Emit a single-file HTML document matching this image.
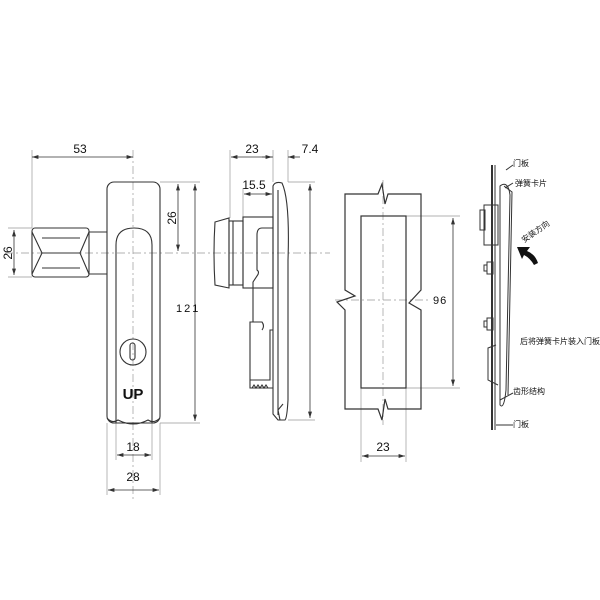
<!DOCTYPE html>
<html><head><meta charset="utf-8"><style>
html,body{margin:0;padding:0;background:#fff}
svg{display:block}
text{font-family:"Liberation Sans",sans-serif;fill:#111}
.c{font-family:"Liberation Serif","Noto Serif CJK SC",serif;font-size:8px}
</style></head><body>
<svg width="600" height="600" viewBox="0 0 600 600" xmlns="http://www.w3.org/2000/svg">
<defs><marker id="a" markerWidth="8" markerHeight="6" refX="8" refY="3" orient="auto-start-reverse"><path d="M0,0.5 L8,3 L0,5.5z" fill="#333"/></marker></defs>
<g stroke="#999" stroke-width="0.7" fill="none">
<line x1="32" y1="150" x2="32" y2="228"/><line x1="133" y1="150" x2="133" y2="500" stroke-dasharray="8,3,2,3"/>
<line x1="8" y1="228" x2="32" y2="228"/><line x1="8" y1="277" x2="32" y2="277"/>
<line x1="160" y1="182" x2="200" y2="182"/><line x1="160" y1="423" x2="200" y2="423"/>
<line x1="5" y1="253" x2="330" y2="253" stroke-dasharray="8,3,2,3"/>
<line x1="107" y1="423" x2="107" y2="495"/><line x1="160" y1="423" x2="160" y2="495"/>
<line x1="116" y1="423" x2="116" y2="460"/><line x1="152" y1="423" x2="152" y2="460"/>
<line x1="230" y1="150" x2="230" y2="218"/><line x1="273" y1="150" x2="273" y2="182"/><line x1="288" y1="150" x2="288" y2="182"/>
<line x1="243" y1="188" x2="243" y2="217"/>
<line x1="288" y1="182" x2="315" y2="182"/><line x1="288" y1="420" x2="315" y2="420"/>
<line x1="406" y1="216" x2="460" y2="216"/><line x1="406" y1="388" x2="460" y2="388"/>
<line x1="361" y1="388" x2="361" y2="462"/><line x1="406" y1="388" x2="406" y2="462"/>
<line x1="383" y1="180" x2="383" y2="425" stroke-dasharray="8,3,2,3"/>
<line x1="335" y1="300" x2="430" y2="300" stroke-dasharray="8,3,2,3"/>
</g>
<g stroke="#333" stroke-width="0.8" fill="none" marker-start="url(#a)" marker-end="url(#a)">
<line x1="32" y1="157" x2="133" y2="157"/>
<line x1="14" y1="230" x2="14" y2="275"/>
<line x1="178" y1="184" x2="178" y2="251"/>
<line x1="195" y1="184" x2="195" y2="421"/>
<line x1="117" y1="455" x2="151" y2="455"/>
<line x1="108" y1="490" x2="159" y2="490"/>
<line x1="231" y1="157" x2="272" y2="157"/>
<line x1="244" y1="194" x2="272" y2="194"/>
<line x1="310" y1="184" x2="310" y2="418"/>
<line x1="453" y1="218" x2="453" y2="386"/>
<line x1="362" y1="456" x2="405" y2="456"/>
</g>
<line x1="288" y1="157" x2="300" y2="157" stroke="#333" stroke-width="0.8" marker-start="url(#a)"/>
<line x1="262" y1="157" x2="273" y2="157" stroke="#333" stroke-width="0.8"/>
<g font-size="12">
<text x="80" y="153" text-anchor="middle">53</text>
<text transform="translate(12,253) rotate(-90)" text-anchor="middle">26</text>
<text transform="translate(176,218) rotate(-90)" text-anchor="middle">26</text>
<text x="176" y="312" letter-spacing="2" font-size="11">121</text>
<text x="133" y="451" text-anchor="middle">18</text>
<text x="133" y="481" text-anchor="middle">28</text>
<text x="252" y="153" text-anchor="middle">23</text>
<text x="310" y="153" text-anchor="middle">7.4</text>
<text x="254" y="189" text-anchor="middle">15.5</text>
<text x="433" y="304" font-size="11" letter-spacing="1">96</text>
<text x="383" y="451" text-anchor="middle">23</text>
</g>
<g stroke="#333" stroke-width="1.1" fill="none">
<rect x="107" y="182" width="53" height="241" rx="7"/>
<path d="M116,423 L116,245 Q116,228 134,228 Q152,228 152,245 L152,423"/>
<path d="M107,418 Q112,424 118,420 Q133,428 148,420 Q154,424 160,418"/>
<path d="M89,232 L107,232 M89,274 L107,274"/>
<rect x="32" y="228" width="57" height="49" rx="3"/>
<path d="M32,232 L42,253 L32,274 M42,253 L80,253 M89,232 L80,253 L89,274 M42,238 L80,238 M42,268 L80,268"/>
<circle cx="133" cy="352" r="13"/>
<rect x="130" y="343" width="5" height="17" rx="2.5"/>
</g>
<text x="133" y="399" text-anchor="middle" font-size="15" font-weight="bold">UP</text>
<g stroke="#333" stroke-width="1.1" fill="none">
<path d="M273,186 Q275,181 282,183 Q290,200 288,260 L288,400 Q287,418 285,420 L278,420 L273,414 Z"/>
<line x1="278" y1="190" x2="278" y2="415"/>
<path d="M215,222 Q213,253 215,285 L229,288 L229,218 Z"/>
<rect x="229" y="221" width="14" height="64"/>
<line x1="233" y1="221" x2="233" y2="285"/>
<rect x="243" y="217" width="30" height="71"/>
<path d="M273,228 L262,228 Q257,228 257,235 L257,270 Q260,272 257,276 L253,282 L253,322"/>
<path d="M273,330 L270,330 L270,380 L250,380 L250,322 L262,322 Q265,326 262,330 M250,380 L250,388 L273,388"/>
<path d="M252,388 l2,-3 l2,3 l2,-3 l2,3 l2,-3 l2,3 l2,-3 l2,3"/>
<path d="M280,420 L278,410 L283,404"/>
</g>
<g stroke="#333" stroke-width="1.2" fill="none">
<path d="M345,194 L378,194 L382,184 L385,204 L388,194 L421,194 L421,290 L409,303 L421,310 L421,409 L388,409 L385,399 L382,420 L378,409 L345,409 L345,310 L337,302 L355,296 L345,290 Z"/>
<rect x="361" y="216" width="45" height="172"/>
</g>
<g stroke="#333" stroke-width="1" fill="none">
<line x1="492" y1="165" x2="492" y2="430" stroke-width="2"/>
<line x1="495" y1="165" x2="495" y2="430"/>
<path d="M500,186 Q508,180 510,195 L506,390 Q504,410 500,405 Z"/>
<path d="M504,186 L512,192 L508,395"/>
<rect x="484" y="205" width="14" height="40"/>
<rect x="480" y="210" width="5" height="20"/>
<path d="M487,262 h6 v12 h-6z M484,265 h3 v6 h-3z"/>
<path d="M487,318 h6 v12 h-6z M484,321 h3 v6 h-3z"/>
<path d="M496,345 L488,348 L488,380 L498,385"/>
<path d="M506,170 L513,165 M505,188 L513,183 M500,400 L513,393 M496,425 L513,425"/>
</g>
<path d="M517,247 L530,247 L527,251 Q535,254 538,263 L534,265 Q530,258 524,255 L522,259 Z" fill="#111"/>
<g class="c">
<text x="513" y="166">门板</text>
<text x="515" y="186">弹簧卡片</text>
<text transform="translate(524,243) rotate(-35)">安装方向</text>
<text x="520" y="344">后将弹簧卡片装入门板</text>
<text x="513" y="394">齿形结构</text>
<text x="513" y="427">门板</text>
</g>
</svg>
</body></html>
